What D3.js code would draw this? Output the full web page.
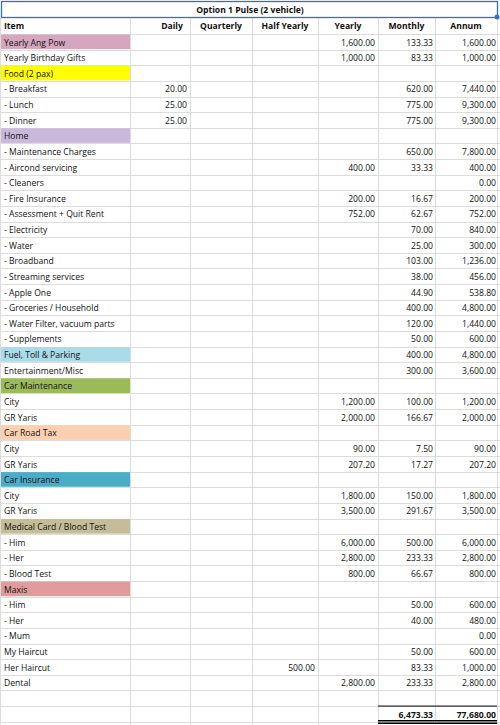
<!DOCTYPE html>
<html><head><meta charset="utf-8">
<script src="https://cdn.jsdelivr.net/npm/d3@7"></script>
<style>
body{margin:0;background:#fff}
text{font-family:"Open Sans",sans-serif;font-size:8.6px;fill:#111}
</style></head><body>
<div class="sheet"></div>
<script>
const items = ["Yearly Ang Pow","Yearly Birthday Gifts","Food (2 pax)","- Breakfast","- Lunch","- Dinner","Home",
  "- Maintenance Charges","- Aircond servicing","- Cleaners","- Fire Insurance","- Assessment + Quit Rent","- Electricity",
  "- Water","- Broadband","- Streaming services","- Apple One","- Groceries / Household","- Water Filter, vacuum parts",
  "- Supplements","Fuel, Toll & Parking","Entertainment/Misc","Car Maintenance","City","GR Yaris","Car Road Tax","City",
  "GR Yaris","Car Insurance","City","GR Yaris","Medical Card / Blood Test","- Him","- Her","- Blood Test","Maxis",
  "- Him","- Her","- Mum","My Haircut","Her Haircut","Dental","",""];
const daily = [null,null,null,20,25,25];
const quarterly = [];
const halfYearly = {40:500};
const yearly = {0:1600,1:1000,8:400,10:200,11:752,23:1200,24:2000,26:90,27:207.2,29:1800,30:3500,32:6000,33:2800,34:800,41:2800};
const monthly = {0:133.33,1:83.33,3:620,4:775,5:775,7:650,8:33.33,10:16.67,11:62.67,12:70,13:25,14:103,15:38,16:44.9,
  17:400,18:120,19:50,20:400,21:300,23:100,24:166.67,26:7.5,27:17.27,29:150,30:291.67,32:500,33:233.33,34:66.67,
  36:50,37:40,39:50,40:83.33,41:233.33,43:6473.33};
const annum = {0:1600,1:1000,3:7440,4:9300,5:9300,7:7800,8:400,9:0,10:200,11:752,12:840,13:300,14:1236,15:456,16:538.8,
  17:4800,18:1440,19:600,20:4800,21:3600,23:1200,24:2000,26:90,27:207.2,29:1800,30:3500,32:6000,33:2800,34:800,
  36:600,37:480,38:0,39:600,40:1000,41:2800,43:77680};
const fills = {0:"#d5a6bd",2:"#ffff00",6:"#c9b8dc",20:"#a9dbe8",22:"#9bbb59",25:"#fbd0b0",28:"#4bacc6",31:"#c4bd97",35:"#e09c9c"};
const columns = ["Item","Daily","Quarterly","Half Yearly","Yearly","Monthly","Annum"];
const colEdges = [0,130,190,252,318,378,435,497];

const svg = d3.select(".sheet").append("svg").attr("width",500).attr("height",725);
const y = d3.scaleBand().domain(d3.range(items.length)).range([34,34+15.63*items.length]);
const fmt = d3.format(",.2f");

// grid
svg.append("g").selectAll("line.v").data(colEdges).enter().append("line")
  .attr("x1",d=>d+.5).attr("x2",d=>d+.5).attr("y1",18).attr("y2",725).attr("stroke","#dcdcdc");
svg.append("g").selectAll("line.h").data(d3.range(items.length+1)).enter().append("line")
  .attr("x1",0).attr("x2",500).attr("y1",d=>Math.round(34+15.63*d)+.5).attr("y2",d=>Math.round(34+15.63*d)+.5).attr("stroke","#dcdcdc");

// fills
svg.append("g").selectAll("rect").data(Object.entries(fills)).enter().append("rect")
  .attr("x",1).attr("width",129).attr("y",d=>y(+d[0])+.5).attr("height",y.bandwidth()-1).attr("fill",d=>d[1]);

// title
svg.append("rect").attr("x",1.5).attr("y",1.5).attr("width",496).attr("height",16).attr("fill","#fff").attr("stroke","#2f6fd0").attr("stroke-width",1.3);
svg.append("circle").attr("cx",497).attr("cy",17).attr("r",2.5).attr("fill","#2f6fd0");
svg.append("text").attr("x",250).attr("y",13).attr("text-anchor","middle").attr("font-weight","bold").text("Option 1 Pulse (2 vehicle)");
svg.selectAll("text.hd").data(columns).enter().append("text")
  .attr("x",(d,i)=>i===0?4:(i===1?172:(colEdges[i]+colEdges[i+1])/2))
  .attr("y",29).attr("text-anchor",(d,i)=>i===0?"start":"middle").attr("font-weight","bold").text(d=>d);

// items
svg.append("g").selectAll("text").data(items).enter().append("text")
  .attr("x",4).attr("y",(d,i)=>y(i)+11.5).text(d=>d);

const numCol = (obj,right,bold) => {
  const ent = Object.entries(obj).filter(d=>d[1]!=null);
  svg.append("g").selectAll("text").data(ent).enter().append("text")
    .attr("x",right).attr("y",d=>y(+d[0])+11.5).attr("text-anchor","end")
    .attr("font-weight",d=>+d[0]===items.length-1?"bold":null).text(d=>fmt(d[1]));
};
numCol(daily,187); numCol(halfYearly,315); numCol(yearly,375); numCol(monthly,433); numCol(annum,496);

// total underline
const ty = y(items.length-1);
svg.append("line").attr("x1",378).attr("x2",497).attr("y1",ty).attr("y2",ty).attr("stroke","#000");
svg.append("line").attr("x1",378).attr("x2",497).attr("y1",ty+y.bandwidth()-1).attr("y2",ty+y.bandwidth()-1).attr("stroke","#000").attr("stroke-width",1.5);
svg.append("line").attr("x1",378).attr("x2",497).attr("y1",ty+y.bandwidth()+1.5).attr("y2",ty+y.bandwidth()+1.5).attr("stroke","#000").attr("stroke-width",1.5);
</script></body></html>
